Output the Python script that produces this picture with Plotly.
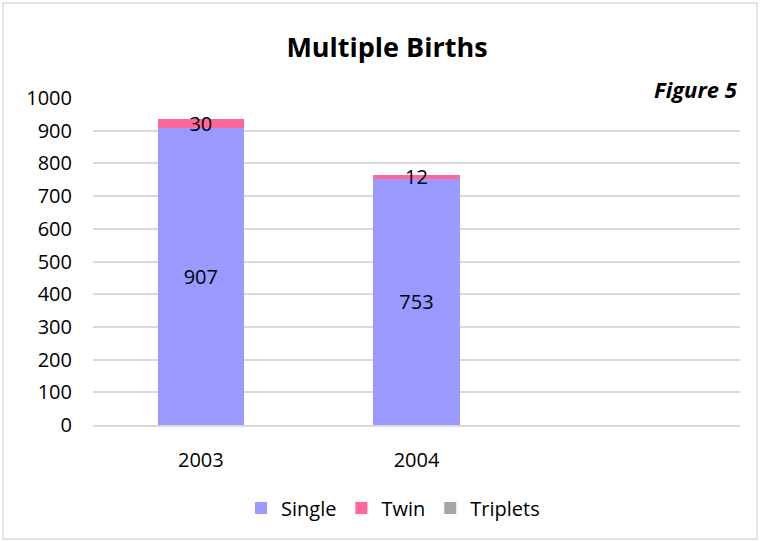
import plotly.graph_objects as go

years = ["2003", "2004"]
single = [907, 753]
twin = [30, 12]
triplets = [0, 0]

colors = {"Single": "#9999ff", "Twin": "#ff6699", "Triplets": "#a5a5a5"}
font = "'Open Sans', sans-serif"

W, H = 760, 542
ml, mr, mt, mb = 93, 20, 98, 117

fig = go.Figure()
for name, vals in [("Single", single), ("Twin", twin), ("Triplets", triplets)]:
    fig.add_trace(go.Bar(
        x=years, y=vals, name=name,
        marker=dict(color=colors[name], line=dict(width=0)),
        text=[str(v) if v else "" for v in vals],
        textposition="inside", insidetextanchor="middle", textangle=0,
        constraintext="none", cliponaxis=False,
        textfont=dict(size=20, color="black", family=font),
        hoverinfo="x+y+name",
    ))

pw = W - ml - mr
ph = H - mt - mb
fig.add_shape(type="rect", xref="paper", yref="paper",
              x0=-(ml - 3) / pw, x1=1 + (mr - 3) / pw,
              y0=-(mb - 3) / ph, y1=1 + (mt - 3) / ph,
              line=dict(color="#d9d9d9", width=1.5), layer="below")

fig.add_annotation(text="<b><i>Figure 5</i></b>", xref="paper", yref="paper",
                   x=1, y=1 + 9 / ph, xanchor="right", yanchor="middle",
                   showarrow=False, font=dict(size=22, color="black", family=font))

fig.update_layout(
    width=W, height=H,
    margin=dict(l=ml, r=mr, t=mt, b=mb),
    barmode="stack", bargap=0.6,
    paper_bgcolor="white", plot_bgcolor="white",
    font=dict(family=font, size=20, color="black"),
    title=dict(text="<b>Multiple Births</b>", x=(387 - ml) / pw, xref="paper",
               xanchor="center", y=1 - 48 / H, yanchor="middle",
               font=dict(size=27, color="black", family=font)),
    legend=dict(orientation="h", x=(393 - ml) / pw, xanchor="center",
                y=-(508 - 425) / ph, yanchor="middle",
                font=dict(size=20, color="black"),
                itemwidth=30, traceorder="normal"),
    xaxis=dict(type="category", range=[-0.5, 2.5], showgrid=False,
               showline=True, linecolor="#d9d9d9", linewidth=1.5,
               ticks="", tickfont=dict(size=20), ticklabelstandoff=16),
    yaxis=dict(range=[0, 1000], dtick=100, showgrid=True,
               gridcolor="#d9d9d9", gridwidth=1.5, zeroline=False,
               ticks="", tickfont=dict(size=20), ticklabelstandoff=20),
)

fig.write_html("out.html", config={"displayModeBar": False},
               post_script="document.body.style.margin='0';")
